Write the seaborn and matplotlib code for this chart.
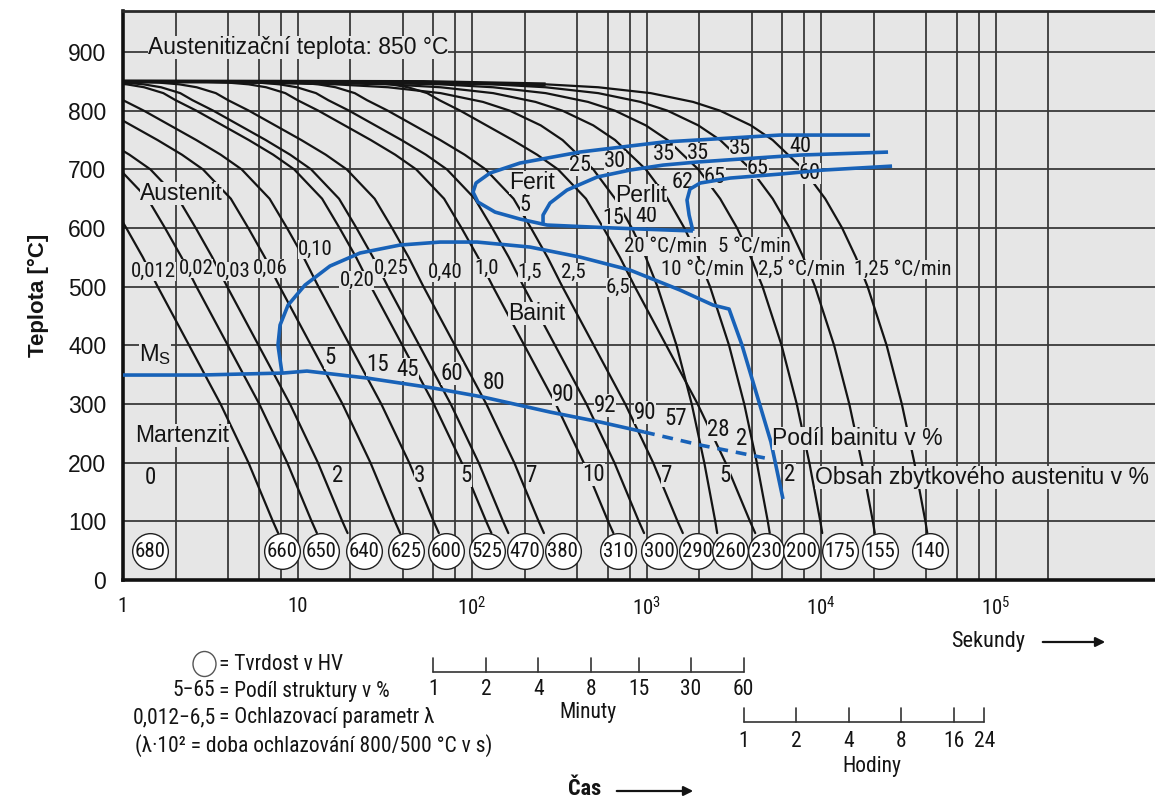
import numpy as np
import pandas as pd
import matplotlib
matplotlib.use("Agg")
import matplotlib.pyplot as plt
import matplotlib.transforms as mtransforms
from matplotlib import font_manager
from matplotlib.patches import Ellipse
import seaborn as sns

# ---------------------------------------------------------------- data
N = None
# cooling curves labelled with the parameter lambda:
# log10(time [s]) at which each curve reaches the temperatures in TEMPS_L
TEMPS_L = [850, 849.5, 848, 845, 840, 830, 818, 800, 775, 750, 725, 700, 650, 600, 550, 500, 400, 300, 200, 100, 80]
l_0012 = [N, N, N, N, N, N, N, N, N, N, N, N, -0.081, 0.019, 0.114, 0.199, 0.379, 0.559, 0.719, 0.859, 0.889]
l_002 = [N, N, N, N, N, N, N, N, N, N, N, -0.019, 0.141, 0.241, 0.336, 0.421, 0.601, 0.781, 0.941, 1.081, 1.111]
l_003 = [N, N, N, N, N, N, N, N, N, -0.103, 0.037, 0.157, 0.317, 0.417, 0.512, 0.597, 0.777, 0.957, 1.117, 1.257, 1.287]
l_006 = [N, N, N, N, N, N, N, -0.102, 0.048, 0.198, 0.338, 0.458, 0.618, 0.718, 0.813, 0.898, 1.078, 1.258, 1.418, 1.558, 1.588]
l_010 = [N, N, N, N, N, -0.07, 0.0, 0.12, 0.27, 0.42, 0.56, 0.68, 0.84, 0.94, 1.035, 1.12, 1.30, 1.48, 1.64, 1.78, 1.81]
l_020 = [N, N, -0.099, 0.021, 0.121, 0.231, 0.301, 0.421, 0.571, 0.721, 0.861, 0.981, 1.141, 1.241, 1.336, 1.421, 1.601, 1.781, 1.941, 2.081, 2.111]
l_025 = [N, -0.152, -0.002, 0.118, 0.218, 0.328, 0.398, 0.518, 0.668, 0.818, 0.958, 1.078, 1.238, 1.338, 1.433, 1.518, 1.698, 1.878, 2.038, 2.178, 2.208]
l_040 = [0, 0.052, 0.202, 0.322, 0.422, 0.532, 0.602, 0.722, 0.872, 1.022, 1.162, 1.282, 1.442, 1.542, 1.637, 1.722, 1.902, 2.082, 2.242, 2.382, 2.412]
l_10 = [0, 0.45, 0.60, 0.72, 0.82, 0.93, 1.00, 1.12, 1.27, 1.42, 1.56, 1.68, 1.84, 1.94, 2.035, 2.12, 2.30, 2.48, 2.64, 2.78, 2.81]
l_15 = [0, 0.626, 0.776, 0.896, 0.996, 1.106, 1.176, 1.296, 1.446, 1.596, 1.736, 1.856, 2.016, 2.116, 2.211, 2.296, 2.476, 2.656, 2.816, 2.956, 2.986]
l_25 = [0, 0.848, 0.998, 1.118, 1.218, 1.328, 1.398, 1.518, 1.668, 1.818, 1.958, 2.078, 2.238, 2.338, 2.433, 2.518, 2.698, 2.878, 3.038, 3.178, 3.208]
l_65 = [0, 1.263, 1.413, 1.533, 1.633, 1.743, 1.813, 1.933, 2.083, 2.233, 2.373, 2.493, 2.653, 2.753, 2.848, 2.933, 3.113, 3.293, 3.453, 3.593, 3.623]
LAMBDA_CURVES = [l_0012, l_002, l_003, l_006, l_010, l_020, l_025, l_040, l_10, l_15, l_25, l_65]
LAMBDA_NAMES = ["0,012", "0,02", "0,03", "0,06", "0,10", "0,20", "0,25", "0,40", "1,0", "1,5", "2,5", "6,5"]

# cooling curves with a constant rate (°C/min): log10(time [s]) at TEMPS_R
TEMPS_R = [850, 849, 845, 840, 830, 815, 800, 775, 750, 700, 650, 600, 550, 500, 400, 300, 200, 100, 80]
r_20 = [0, 0.519, 1.217, 1.519, 1.820, 2.063, 2.217, 2.394, 2.519, 2.695, 2.820, 2.916, 2.996, 3.063, 3.172, 3.259, 3.331, 3.394, 3.405]
r_10 = [0, 0.820, 1.519, 1.820, 2.121, 2.364, 2.519, 2.695, 2.820, 2.996, 3.121, 3.217, 3.297, 3.364, 3.473, 3.560, 3.632, 3.695, 3.706]
r_5 = [0, 1.121, 1.820, 2.121, 2.422, 2.665, 2.820, 2.996, 3.121, 3.297, 3.422, 3.519, 3.598, 3.665, 3.774, 3.861, 3.933, 3.996, 4.007]
r_25 = [0, 1.422, 2.121, 2.422, 2.723, 2.966, 3.121, 3.297, 3.422, 3.598, 3.723, 3.820, 3.899, 3.966, 4.075, 4.162, 4.234, 4.297, 4.308]
r_125 = [0, 1.723, 2.422, 2.723, 3.024, 3.267, 3.422, 3.598, 3.723, 3.899, 4.024, 4.121, 4.200, 4.267, 4.376, 4.463, 4.535, 4.598, 4.609]
RATE_CURVES = [r_20, r_10, r_5, r_25, r_125]
RATE_NAMES = ["20 °C/min", "10 °C/min", "5 °C/min", "2,5 °C/min", "1,25 °C/min"]

# hardness HV and log10(time [s]) where its circle sits
HARDNESS = [680, 660, 650, 640, 625, 600, 525, 470, 380, 310, 300, 290, 260, 230, 200, 175, 155, 140]
HARDNESS_LOGT = [0.155, 0.911, 1.135, 1.381, 1.622, 1.851, 2.086, 2.304, 2.521, 2.837,
                 3.072, 3.289, 3.479, 3.685, 3.885, 4.109, 4.338, 4.625]

# transformation lines: log10(time [s]) and temperature (°C)
ferrite_logt = [4.281, 3.765, 3.095, 2.619, 2.275, 2.103, 2.023, 2.006, 2.034, 2.132, 2.275, 2.430, 2.808, 3.266]
ferrite_T = [758.5, 758.5, 746.6, 729.6, 710.8, 693.7, 676.7, 661.3, 644.3, 627.2, 615.3, 605.1, 600.1, 595.0]
pearlite_logt = [4.384, 3.880, 3.536, 3.289, 3.095, 2.905, 2.716, 2.544, 2.447, 2.407, 2.407]
pearlite_T = [729.5, 724.4, 717.6, 712.5, 707.3, 698.8, 686.9, 664.7, 642.6, 622.1, 605.1]
pearlite_end_logt = [3.266, 3.244, 3.232, 3.249, 3.307, 3.479, 3.765, 4.011, 4.407]
pearlite_end_T = [595.0, 622.1, 647.7, 666.4, 676.7, 685.2, 692.0, 698.8, 705.6]
bainite_logt = [0.911, 0.888, 0.900, 0.946, 1.043, 1.186, 1.358, 1.587, 1.817, 2.029, 2.332, 2.619,
                2.905, 3.192, 3.381, 3.473, 3.547, 3.713, 3.782]
bainite_T = [352.8, 400.5, 434.6, 468.7, 502.8, 535.2, 557.4, 571.0, 576.1, 576.1, 567.6, 550.5,
             528.4, 494.3, 468.7, 461.9, 400.5, 235.2, 138.1]
ms_logt = [0.0, 0.441, 0.917, 1.054, 1.398, 1.777, 2.063, 2.447, 2.734, 2.986]
ms_T = [349.4, 349.4, 352.8, 356.2, 344.3, 327.3, 311.9, 286.3, 269.3, 252.3]
ms_dash_logt = [2.986, 3.307, 3.708]
ms_dash_T = [252.3, 230.1, 206.2]

BAINITE_PCT = ["5", "15", "45", "60", "80", "90", "92", "90", "57", "28", "2"]
RET_AUST = ["0", "2", "3", "5", "7", "10", "7", "5", "2"]
MINUTES = [1, 2, 4, 8, 15, 30, 60]
HOURS = [1, 2, 4, 8, 16, 24]

# ---------------------------------------------------------------- fonts
sns.set_theme(style="white")
ttf = font_manager.fontManager.ttflist
avail = {f.name for f in ttf}
MAIN = "Liberation Sans" if "Liberation Sans" in avail else "DejaVu Sans"
NARROW = None
for cand in ["Liberation Sans Narrow", "Roboto Condensed", "Open Sans Condensed", "Noto Sans Condensed"]:
    if cand in avail:
        NARROW = {"family": [cand, "DejaVu Sans"]}
        break
if NARROW is None:
    if any(f.name == "DejaVu Sans" and str(f.stretch) == "condensed" for f in ttf):
        NARROW = {"family": ["DejaVu Sans"], "stretch": "condensed"}
    else:
        NARROW = {"family": [MAIN, "DejaVu Sans"]}
REG = {"family": [MAIN, "DejaVu Sans"]}
plt.rcParams["font.family"] = [MAIN, "DejaVu Sans"]

BG = "#e6e6e6"
GRID = "#3a3a3a"
BLUE = "#1862b8"
INK = "#141414"

W, H = 1155, 801
fig = plt.figure(figsize=(W / 100, H / 100), dpi=100)
ax = fig.add_axes([123 / W, 1 - 580 / H, 1 - 123 / W, 569 / H])
ax.set_facecolor(BG)
ax.set_xscale("log")
ax.set_xlim(1, 8.2e5)
ax.set_ylim(0, 970)

# grid
for n in range(5):
    for k in (1, 2, 4, 6, 8):
        ax.axvline(k * 10 ** n, color=GRID, lw=1.3, zorder=1)
for v in (1e5, 2e5):
    ax.axvline(v, color=GRID, lw=1.3, zorder=1)
for T in range(100, 1000, 100):
    ax.axhline(T, color=GRID, lw=1.3, zorder=1)

# cooling curves
rows = []
for temps, names, curves in ((TEMPS_L, LAMBDA_NAMES, LAMBDA_CURVES), (TEMPS_R, RATE_NAMES, RATE_CURVES)):
    for name, lts in zip(names, curves):
        for T, lt in zip(temps, lts):
            if lt is not None:
                rows.append((name, 10 ** lt, T))
df = pd.DataFrame(rows, columns=["curve", "time", "temp"])
sns.lineplot(data=df, x="time", y="temp", units="curve", estimator=None, sort=False,
             color=INK, lw=1.6, ax=ax, legend=False, zorder=2)
# common holding line at the austenitizing temperature (heavier where all curves coincide)
ax.plot(10 ** np.array(r_125[:3]), TEMPS_R[:3], color=INK, lw=2.8, zorder=2, solid_capstyle="butt")
ax.set_xlabel("")
ax.set_ylabel("")

# transformation lines
def tl(lts, Ts, **kw):
    ax.plot(10 ** np.array(lts), Ts, color=BLUE, lw=2.6, zorder=3,
            solid_capstyle="butt", **kw)

tl(ferrite_logt, ferrite_T)
tl(pearlite_logt, pearlite_T)
tl(pearlite_end_logt, pearlite_end_T)
tl(bainite_logt, bainite_T)
tl(ms_logt, ms_T)
tl(ms_dash_logt, ms_dash_T, ls=(0, (3, 2.2)))

# hardness circles
hx = 10 ** np.array(HARDNESS_LOGT)
sns.scatterplot(x=hx, y=np.full(len(hx), 49.0), s=660, color="white", edgecolor="#202020",
                linewidth=1.0, ax=ax, zorder=6, legend=False, clip_on=False)
for x, v in zip(hx, HARDNESS):
    ax.text(x, 49, str(v), ha="center", va="center", fontsize=15, color=INK, zorder=7, **NARROW)


def put(s, lt, T, size=15, narrow=True, ha="center", va="center", bg=True, z=2.5, **kw):
    props = NARROW if narrow else REG
    bbox = dict(boxstyle="square,pad=0.0", fc=BG, ec="none") if bg else None
    ax.text(10 ** lt, T, s, fontsize=size, ha=ha, va=va, bbox=bbox, zorder=z,
            color=INK, **props, **kw)

# region names
put("Austenitizační teplota: 850 °C", 0.143, 908, size=16.5, narrow=False, ha="left")
put("Austenit", 0.097, 659.6, size=16.5, narrow=False, ha="left")
put("Ferit", 2.344, 678, size=16.5, narrow=False, z=5)
put("Perlit", 2.968, 656, size=16.5, narrow=False, z=5)
put("Bainit", 2.372, 455, size=16.5, narrow=False)
put(r"$\mathregular{M_S}$", 0.183, 383.5, size=17, narrow=False)
put("Martenzit", 0.072, 247.1, size=16.5, narrow=False, ha="left")
put("Podíl bainitu v %", 3.719, 242, size=16.5, narrow=False, ha="left", z=5)
put("Obsah zbytkového austenitu v %", 3.966, 173.9, size=16.5, narrow=False, ha="left", z=5)

# structure percentages in ferrite / pearlite
for s, lt, T in [("5", 2.304, 639), ("25", 2.619, 707), ("30", 2.819, 713), ("35", 3.100, 725),
                 ("35", 3.295, 727), ("35", 3.536, 735), ("40", 3.880, 739),
                 ("62", 3.209, 678.4), ("65", 3.393, 686.9), ("65", 3.639, 702.2),
                 ("60", 3.937, 693.7), ("15", 2.808, 616), ("40", 2.997, 619)]:
    put(s, lt, T, size=16)

# curve labels
label_pos = [(0.172, 526.7), (0.418, 531.8), (0.630, 526.7), (0.842, 531.8), (1.100, 564.2),
             (1.340, 511.0), (1.535, 531.0), (1.845, 525.0), (2.086, 531.8), (2.332, 525.0),
             (2.579, 525.0), (2.837, 499.4)]
for name, (lt, T) in zip(LAMBDA_NAMES, label_pos):
    put(name, lt, T, size=15)
rate_pos = [(3.112, 569.3), (3.324, 530.1), (3.616, 569.3), (3.891, 530.1), (4.470, 530.1)]
for name, (lt, T) in zip(RATE_NAMES, rate_pos):
    put(name, lt, T, size=15)

# bainite percentages
bpos = [(1.186, 380), (1.456, 368), (1.633, 359), (1.885, 352), (2.126, 337),
        (2.521, 316), (2.762, 297), (2.991, 285), (3.169, 276), (3.410, 256), (3.547, 242)]
for s, (lt, T) in zip(BAINITE_PCT, bpos):
    put(s, lt, T, size=16.5)

# retained austenite
rpos = [(0.155, 173.9), (1.232, 177.3), (1.702, 177.3), (1.966, 177.3), (2.344, 177.3),
        (2.699, 180.7), (3.117, 177.3), (3.450, 177.3), (3.822, 180.7)]
for s, (lt, T) in zip(RET_AUST, rpos):
    put(s, lt, T, size=16.5)

# axes styling
for side in ("left", "bottom"):
    ax.spines[side].set_linewidth(2.6)
    ax.spines[side].set_color("#111111")
ax.spines["top"].set_linewidth(2.0)
ax.spines["top"].set_color("#2a2a2a")
ax.spines["right"].set_visible(False)
ax.set_yticks(range(0, 1000, 100))
ax.set_yticklabels([str(v) for v in range(0, 1000, 100)], fontsize=16.5, **REG)
ax.set_xticks([1, 10, 100, 1e3, 1e4, 1e5])
ax.set_xticklabels(["1", "10", r"$\mathregular{10^2}$", r"$\mathregular{10^3}$",
                    r"$\mathregular{10^4}$", r"$\mathregular{10^5}$"], fontsize=15, **NARROW)
ax.xaxis.set_minor_locator(matplotlib.ticker.NullLocator())
ax.tick_params(axis="both", which="both", length=0, colors=INK)
ax.tick_params(axis="y", pad=12)
ax.tick_params(axis="x", pad=12)
ax.set_ylabel("Teplota [°C]", fontsize=16, fontweight="bold", labelpad=14, color=INK, **REG)

# secondary time scales (minutes, hours)
bt = mtransforms.blended_transform_factory(ax.transData, ax.transAxes)
mx = [m * 60 for m in MINUTES]
ax.plot([mx[0], mx[-1]], [-0.1617, -0.1617], transform=bt, color="#333", lw=1.2, clip_on=False)
for x, m in zip(mx, MINUTES):
    ax.plot([x, x], [-0.1617, -0.137], transform=bt, color="#333", lw=1.2, clip_on=False)
    ax.text(x, -0.1933, str(m), transform=bt, ha="center", va="center", fontsize=15.5, color=INK, **NARROW)
ax.text(462, -0.232, "Minuty", transform=bt, ha="center", va="center", fontsize=15.5, color=INK, **NARROW)
hx2 = [h * 3600 for h in HOURS]
ax.plot([hx2[0], hx2[-1]], [-0.2496, -0.2496], transform=bt, color="#333", lw=1.2, clip_on=False)
for x, h in zip(hx2, HOURS):
    ax.plot([x, x], [-0.2496, -0.225], transform=bt, color="#333", lw=1.2, clip_on=False)
    ax.text(x, -0.2847, str(h), transform=bt, ha="center", va="center", fontsize=15.5, color=INK, **NARROW)
ax.text(19600, -0.327, "Hodiny", transform=bt, ha="center", va="center", fontsize=15.5, color=INK, **NARROW)

# "Sekundy" and "Čas" with arrows
fig.text(988 / W, 1 - 641 / H, "Sekundy", ha="center", va="center", fontsize=16, color=INK, **NARROW)
ax.annotate("", xy=(1108 / W, 1 - 642 / H), xytext=(1040 / W, 1 - 642 / H),
            xycoords="figure fraction", textcoords="figure fraction",
            arrowprops=dict(arrowstyle="-|>", lw=1.6, color=INK, mutation_scale=14))
fig.text(585 / W, 1 - 789 / H, "Čas", ha="center", va="center", fontsize=16, fontweight="bold",
         color=INK, **NARROW)
ax.annotate("", xy=(696 / W, 1 - 791 / H), xytext=(614 / W, 1 - 791 / H),
            xycoords="figure fraction", textcoords="figure fraction",
            arrowprops=dict(arrowstyle="-|>", lw=1.6, color=INK, mutation_scale=14))

# key
fig.add_artist(Ellipse((2.045, (H - 664) / 100), 0.23, 0.25, transform=fig.dpi_scale_trans,
                       fc="white", ec="#555", lw=1.0))
kx = 219 / W
fig.text(kx, 1 - 664 / H, "= Tvrdost v HV", ha="left", va="center", fontsize=15.5, color=INK, **NARROW)
fig.text(kx - 0.003, 1 - 691 / H, "5−65", ha="right", va="center", fontsize=15.5, color=INK, **NARROW)
fig.text(kx, 1 - 691 / H, "= Podíl struktury v %", ha="left", va="center", fontsize=15.5, color=INK, **NARROW)
fig.text(kx - 0.003, 1 - 718 / H, "0,012−6,5", ha="right", va="center", fontsize=15.5, color=INK, **NARROW)
fig.text(kx, 1 - 718 / H, "= Ochlazovací parametr λ", ha="left", va="center", fontsize=15.5, color=INK, **NARROW)
fig.text(135 / W, 1 - 746 / H, "(λ·10² = doba ochlazování 800/500 °C v s)", ha="left", va="center",
         fontsize=15.5, color=INK, **NARROW)

fig.savefig("out.png", dpi=100, facecolor="white")
